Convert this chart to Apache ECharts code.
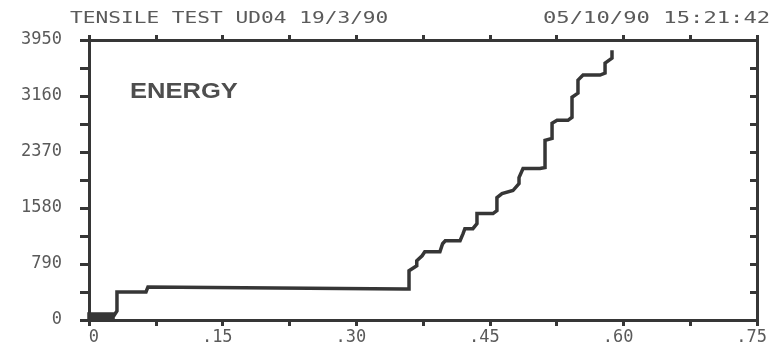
<!DOCTYPE html>
<html>
<head>
<meta charset="utf-8">
<script src="https://cdn.jsdelivr.net/npm/echarts@6/dist/echarts.min.js"></script>
<style>
html,body{margin:0;padding:0;background:#ffffff;}
#chart{width:770px;height:352px;}
</style>
</head>
<body>
<div id="chart"></div>
<script>
// ---- data ----
var titleLeft = 'TENSILE TEST UD04 19/3/90';
var titleRight = '05/10/90 15:21:42';
var seriesLabel = 'ENERGY';

var xTickValues = [0, 0.15, 0.30, 0.45, 0.60, 0.75];
var xTickLabels = ['0', '.15', '.30', '.45', '.60', '.75'];
var yTickValues = [0, 790, 1580, 2370, 3160, 3950];
var yTickLabels = ['0', '790', '1580', '2370', '3160', '3950'];

var energyX = [0, 0.027, 0.027, 0, 0, 0.027, 0.0314, 0.0314, 0.064, 0.0662, 0.3548,
  0.3593, 0.3593, 0.368, 0.368, 0.374, 0.377, 0.394, 0.397, 0.400, 0.4166, 0.420, 0.422,
  0.431, 0.4356, 0.4356, 0.4536, 0.458, 0.458, 0.4637, 0.476, 0.4828, 0.4828, 0.4873,
  0.5064, 0.512, 0.512, 0.5199, 0.5199, 0.5255, 0.5378, 0.5423, 0.5423, 0.549, 0.549,
  0.5547, 0.5738, 0.5794, 0.5794, 0.5872, 0.5872];
var energyY = [0, 0, 85, 85, 42, 42, 127, 396, 396, 467, 439,
  439, 694, 765, 835, 906, 963, 963, 1076, 1118, 1118, 1218, 1288,
  1288, 1359, 1501, 1501, 1543, 1727, 1784, 1826, 1925, 2010, 2138,
  2138, 2152, 2534, 2563, 2775, 2817, 2817, 2860, 3143, 3200, 3384,
  3455, 3455, 3483, 3625, 3695, 3780];

// ---- build ----
var seriesData = energyX.map(function (x, i) { return [x, energyY[i]]; });
var INK = '#363636';
var TXT = '#5a5a5a';
var MONO = '"DejaVu Sans Mono", "Liberation Mono", monospace';

function xFmt(v) {
  for (var i = 0; i < xTickValues.length; i++) {
    if (Math.abs(v - xTickValues[i]) < 1e-6) return '{a|' + xTickLabels[i] + '}';
  }
  return '';
}
function yFmt(v) {
  for (var i = 0; i < yTickValues.length; i++) {
    if (Math.abs(v - yTickValues[i]) < 1e-6) return yTickLabels[i];
  }
  return '';
}

var chart = echarts.init(document.getElementById('chart'), null, {renderer: 'canvas'});
var axisLineStyle = {color: INK, width: 3};
chart.setOption({
  animation: false,
  backgroundColor: '#ffffff',
  grid: {left: 89, right: 13, top: 40, bottom: 32, containLabel: false},
  xAxis: [{
    type: 'value', position: 'bottom', min: 0, max: 0.75, interval: 0.075,
    axisLine: {show: true, onZero: false, lineStyle: axisLineStyle},
    axisTick: {show: true, inside: false, length: 6, lineStyle: {color: INK, width: 3}},
    splitLine: {show: false},
    axisLabel: {
      show: true, margin: 9, formatter: xFmt, showMinLabel: true, showMaxLabel: true,
      color: TXT, fontFamily: MONO, fontSize: 17,
      rich: {a: {width: 20, align: 'right', color: TXT, fontFamily: MONO, fontSize: 17}}
    }
  }, {
    type: 'value', position: 'top', min: 0, max: 0.75, interval: 0.075,
    axisLine: {show: true, onZero: false, lineStyle: axisLineStyle},
    axisTick: {show: true, inside: false, length: 5, lineStyle: {color: INK, width: 3}},
    splitLine: {show: false},
    axisLabel: {show: false}
  }],
  yAxis: [{
    type: 'value', position: 'left', min: 0, max: 3950, interval: 395,
    axisLine: {show: true, onZero: false, lineStyle: axisLineStyle},
    axisTick: {show: true, inside: false, length: 9, lineStyle: {color: INK, width: 3}},
    splitLine: {show: false},
    axisLabel: {
      show: true, margin: 27, formatter: yFmt, showMinLabel: true, showMaxLabel: true,
      color: TXT, fontFamily: MONO, fontSize: 17
    }
  }, {
    type: 'value', position: 'right', min: 0, max: 3950, interval: 395,
    axisLine: {show: true, onZero: false, lineStyle: axisLineStyle},
    axisTick: {show: true, inside: true, length: 7, lineStyle: {color: INK, width: 3}},
    splitLine: {show: false},
    axisLabel: {show: false}
  }],
  series: [{
    name: seriesLabel,
    type: 'line',
    xAxisIndex: 0, yAxisIndex: 0,
    data: seriesData,
    showSymbol: false,
    symbol: 'none',
    smooth: false,
    lineStyle: {color: INK, width: 3.5, join: 'miter', cap: 'square'},
    clip: true
  }],
  graphic: [{
    type: 'text', x: 70, y: 19, scaleX: 1.41,
    style: {text: titleLeft, fill: TXT, font: '15px ' + MONO, textVerticalAlign: 'middle', textAlign: 'left'}
  }, {
    type: 'text', x: 543, y: 19, scaleX: 1.48,
    style: {text: titleRight, fill: TXT, font: '15px ' + MONO, textVerticalAlign: 'middle', textAlign: 'left'}
  }, {
    type: 'text', x: 130, y: 92, scaleX: 1.16,
    style: {text: seriesLabel, fill: '#4e4e4e', font: 'bold 22px "Liberation Sans", Arial, sans-serif', textVerticalAlign: 'middle', textAlign: 'left'}
  }]
});
</script>
</body>
</html>
